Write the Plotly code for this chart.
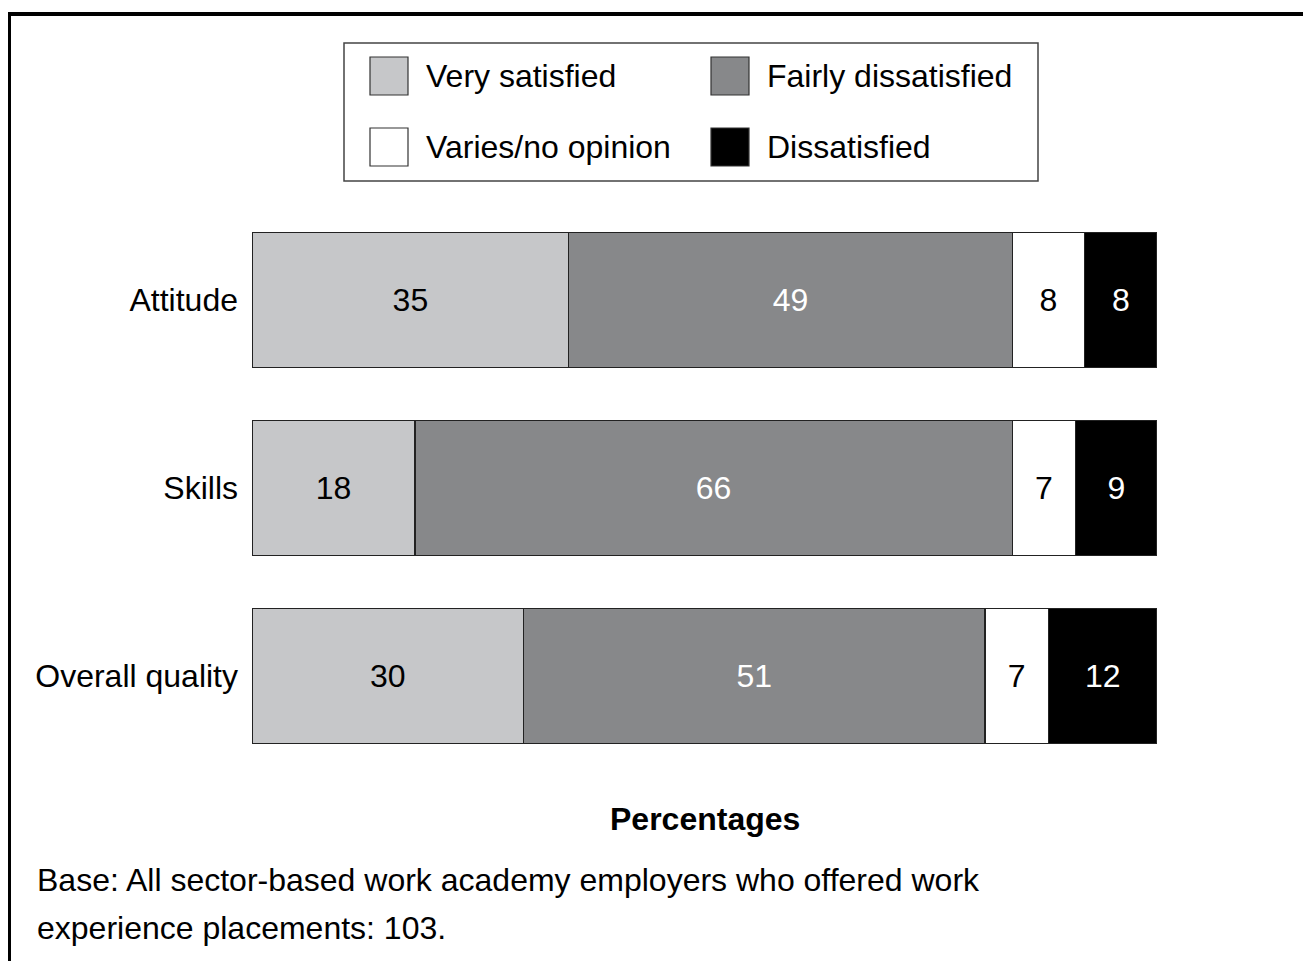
import plotly.graph_objects as go

categories = ["Attitude", "Skills", "Overall quality"]
series_names = ["Very satisfied", "Fairly dissatisfied", "Varies/no opinion", "Dissatisfied"]
very_satisfied = [35, 18, 30]
fairly_dissatisfied = [49, 66, 51]
varies_no_opinion = [8, 7, 7]
dissatisfied = [8, 9, 12]
x_title = "Percentages"
base_note = ["Base: All sector-based work academy employers who offered work",
             "experience placements: 103."]

series_values = [very_satisfied, fairly_dissatisfied, varies_no_opinion, dissatisfied]
fill_colors = ["#c6c7c9", "#87888a", "#ffffff", "#000000"]
text_colors = ["#000000", "#ffffff", "#000000", "#ffffff"]

FONT = "Liberation Sans, Arial, sans-serif"
FS = 32

OFF = 8  # page body margin
W, H = 1311 - OFF, 961 - OFF
L, R, T, B = 252 - OFF, 1157 - OFF, 206 - OFF, 770 - OFF


def px(x):
    # x given in target page pixels
    return (x - OFF - L) / (R - L)


def py(y):
    return (B - (y - OFF)) / (B - T)


fig = go.Figure()
for name, vals, fc, tc in zip(series_names, series_values, fill_colors, text_colors):
    fig.add_trace(go.Bar(
        y=categories, x=vals, name=name, orientation="h",
        marker=dict(color=fc, line=dict(color="#222222", width=1.3)),
        width=0.72,
        text=[str(v) for v in vals], textposition="inside",
        insidetextanchor="middle", textangle=0,
        textfont=dict(family=FONT, size=FS, color=tc),
        showlegend=False,
    ))

shapes = []
annotations = []

# frame
shapes.append(dict(type="line", xref="paper", yref="paper",
                   x0=px(9), x1=px(1330), y0=py(14), y1=py(14),
                   line=dict(color="black", width=4)))
shapes.append(dict(type="line", xref="paper", yref="paper",
                   x0=px(9), x1=px(9), y0=py(12), y1=py(990),
                   line=dict(color="black", width=4)))

# legend box
shapes.append(dict(type="rect", xref="paper", yref="paper",
                   x0=px(344), x1=px(1038), y0=py(43), y1=py(181),
                   line=dict(color="#444444", width=1.5), fillcolor="white"))
leg_pos = [(370, 57), (711, 57), (370, 128), (711, 128)]
for (lx, ly), name, fc in zip(leg_pos, series_names, fill_colors):
    shapes.append(dict(type="rect", xref="paper", yref="paper",
                       x0=px(lx), x1=px(lx + 38), y0=py(ly), y1=py(ly + 38),
                       line=dict(color="#333333", width=1.2), fillcolor=fc))
    annotations.append(dict(xref="paper", yref="paper", x=px(lx + 54), y=py(ly + 19),
                            text=name, showarrow=False, xanchor="left", yanchor="middle",
                            font=dict(family=FONT, size=FS, color="black")))

annotations.append(dict(xref="paper", yref="paper", x=px(705), y=py(819),
                        text="<b>" + x_title + "</b>", showarrow=False,
                        xanchor="center", yanchor="middle",
                        font=dict(family=FONT, size=FS, color="black")))
for i, line in enumerate(base_note):
    annotations.append(dict(xref="paper", yref="paper", x=px(35), y=py(880 + 48 * i),
                            text=line, showarrow=False, xanchor="left", yanchor="middle",
                            font=dict(family=FONT, size=FS, color="black")))

fig.update_layout(
    width=W, height=H, barmode="stack",
    margin=dict(l=L, r=W - R, t=T, b=H - B, pad=0),
    paper_bgcolor="white", plot_bgcolor="white",
    shapes=shapes, annotations=annotations,
    uniformtext=dict(minsize=FS, mode="show"),
    xaxis=dict(range=[0, 100], visible=False, fixedrange=True),
    yaxis=dict(range=[2.5, -0.5], showgrid=False, zeroline=False, showline=False,
               ticks="", ticklabelstandoff=13,
               tickfont=dict(family=FONT, size=FS, color="black")),
    font=dict(family=FONT, size=FS, color="black"),
)

fig.write_html("out.html")
